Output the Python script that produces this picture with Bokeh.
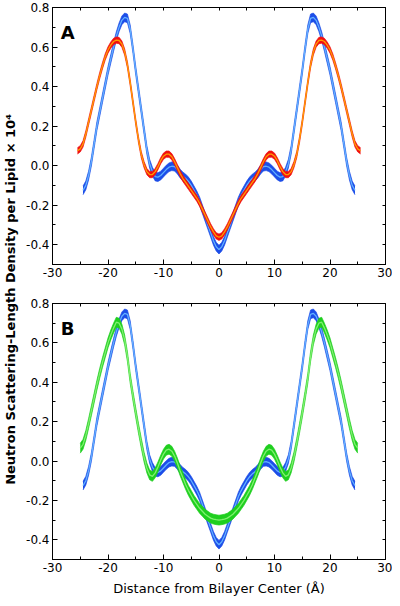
import numpy as np
from bokeh.plotting import figure
from bokeh.models import (Range1d, LinearAxis, SingleIntervalTicker, FixedTicker,
                          PrintfTickFormatter, CustomJSTickFormatter, Label)
from bokeh.layouts import row, column
from bokeh.embed import file_html
from bokeh.resources import INLINE

# ---------------- data ----------------
blue_x_start, blue_x_end = -24.5, 24.5
blue_y = [-0.125, -0.10, -0.05, 0.02, 0.11, 0.20, 0.27, 0.34, 0.41, 0.48,
          0.54, 0.60, 0.655, 0.70, 0.735, 0.75, 0.745, 0.69, 0.59, 0.48,
          0.38, 0.28, 0.18, 0.08, 0.01, -0.03, -0.055, -0.058, -0.05, -0.035,
          -0.02, -0.008, -0.003, -0.005, -0.02, -0.04, -0.055, -0.065, -0.08, -0.10,
          -0.125, -0.15, -0.18, -0.22, -0.26, -0.30, -0.34, -0.38, -0.41, -0.425,
          -0.41, -0.38, -0.34, -0.30, -0.26, -0.22, -0.18, -0.15, -0.125,
          -0.10, -0.08, -0.065, -0.055, -0.04, -0.02, -0.005, -0.003, -0.008, -0.02,
          -0.035, -0.05, -0.058, -0.055, -0.03, 0.01, 0.08, 0.18, 0.28, 0.38,
          0.48, 0.59, 0.69, 0.745, 0.75, 0.735, 0.70, 0.655, 0.60, 0.54,
          0.48, 0.41, 0.34, 0.27, 0.20, 0.11, 0.02, -0.05, -0.10, -0.125]
blue_halfwidth = 0.022

red_x_start, red_x_end = -25.5, 25.5
red_y = [0.075, 0.085, 0.11, 0.16, 0.22, 0.28, 0.34, 0.40, 0.455, 0.505,
         0.55, 0.585, 0.61, 0.628, 0.635, 0.633, 0.615, 0.575, 0.51, 0.42,
         0.32, 0.22, 0.13, 0.055, 0.005, -0.03, -0.045, -0.045, -0.03, -0.005,
         0.025, 0.048, 0.058, 0.058, 0.045, 0.02, -0.01, -0.04, -0.065, -0.085,
         -0.105, -0.125, -0.145, -0.165, -0.19, -0.22, -0.25, -0.28, -0.31, -0.335,
         -0.355, -0.362,
         -0.355, -0.335, -0.31, -0.28, -0.25, -0.22, -0.19, -0.165, -0.145, -0.125,
         -0.105, -0.085, -0.065, -0.04, -0.01, 0.02, 0.045, 0.058, 0.058, 0.048,
         0.025, -0.005, -0.03, -0.045, -0.045, -0.03, 0.005, 0.055, 0.13, 0.22,
         0.32, 0.42, 0.51, 0.575, 0.615, 0.633, 0.635, 0.628, 0.61, 0.585,
         0.55, 0.505, 0.455, 0.40, 0.34, 0.28, 0.22, 0.16, 0.11, 0.085, 0.075]
red_halfwidth = 0.016

green_x_start, green_x_end = -25.0, 25.0
green_y = [0.065, 0.085, 0.13, 0.19, 0.255, 0.32, 0.385, 0.445, 0.50, 0.55,
           0.60, 0.64, 0.675, 0.705, 0.70, 0.67, 0.615, 0.53, 0.42, 0.33,
           0.245, 0.165, 0.09, 0.02, -0.035, -0.07, -0.078, -0.06, -0.03, 0.005,
           0.035, 0.055, 0.06, 0.05, 0.025, -0.01, -0.05, -0.085, -0.12, -0.15,
           -0.175, -0.20, -0.22, -0.24, -0.255, -0.27, -0.28, -0.29, -0.295, -0.298,
           -0.30,
           -0.298, -0.295, -0.29, -0.28, -0.27, -0.255, -0.24, -0.22, -0.20, -0.175,
           -0.15, -0.12, -0.085, -0.05, -0.01, 0.025, 0.05, 0.06, 0.055, 0.035,
           0.005, -0.03, -0.06, -0.078, -0.07, -0.035, 0.02, 0.09, 0.165, 0.245,
           0.33, 0.42, 0.53, 0.615, 0.67, 0.70, 0.705, 0.675, 0.64, 0.60,
           0.55, 0.50, 0.445, 0.385, 0.32, 0.255, 0.19, 0.13, 0.085, 0.065]
green_halfwidth = 0.025

y_ticks = [-0.4, -0.2, 0.0, 0.2, 0.4, 0.6, 0.8]
y_minor = [-0.5, -0.3, -0.1, 0.1, 0.3, 0.5, 0.7]
y_mirror = [-0.4, -0.3, -0.2, -0.1, 0.0, 0.1, 0.2, 0.3, 0.4, 0.5, 0.6, 0.7]
x_label = "Distance from Bilayer Center (\u00c5)"
y_label = "Neutron Scattering-Length Density per Lipid \u00d7 10\u2074"

FONT = "DejaVu Sans"
BLUE_DARK, BLUE_LIGHT = "#1c4ee8", "#62b0ff"
RED_DARK, RED_LIGHT = "#f01010", "#ff9c00"
GREEN_DARK, GREEN_LIGHT = "#1fcf1f", "#80f070"


def band(p, xs, xe, ys, hw, dark, light):
    x = np.linspace(xs, xe, len(ys))
    y = np.array(ys)
    p.varea(x=x, y1=y - hw, y2=y + hw, fill_color=dark, fill_alpha=1.0)
    p.line(x, y - hw, line_color=dark, line_width=0.7)
    p.line(x, y + hw, line_color=dark, line_width=0.7)
    p.line(x, y, line_color=light, line_width=1.3)


def panel(letter, height, bottom_border, with_title):
    p = figure(width=372, height=height, output_backend="svg", toolbar_location=None,
               x_range=Range1d(-30, 30), y_range=Range1d(-0.5, 0.8),
               min_border_left=32, min_border_right=7, min_border_top=7,
               min_border_bottom=bottom_border)
    p.grid.visible = False
    p.outline_line_color = "black"
    p.outline_line_width = 1
    p.background_fill_color = "white"

    xa = p.xaxis[0]
    xa.ticker = SingleIntervalTicker(interval=10, num_minor_ticks=2)
    xa.formatter = PrintfTickFormatter(format="%d")
    ya = p.yaxis[0]
    ya.ticker = FixedTicker(ticks=y_ticks, minor_ticks=y_minor)
    ya.formatter = PrintfTickFormatter(format="%.1f")
    for ax in (xa, ya):
        ax.major_tick_in = 5
        ax.major_tick_out = 0
        ax.minor_tick_in = 3
        ax.minor_tick_out = 0
        ax.axis_line_color = "black"
        ax.major_tick_line_color = "black"
        ax.minor_tick_line_color = "black"
        ax.major_label_text_font = FONT
        ax.major_label_text_font_size = "12px"
        ax.major_label_text_color = "black"
        ax.major_label_standoff = 3
    if with_title:
        xa.axis_label = x_label
        xa.axis_label_text_font = FONT
        xa.axis_label_text_font_size = "13px"
        xa.axis_label_text_font_style = "normal"
        xa.axis_label_text_color = "black"
        xa.axis_label_standoff = 6

    empty = CustomJSTickFormatter(code="return ''")
    top = LinearAxis(ticker=SingleIntervalTicker(interval=5, num_minor_ticks=0),
                     formatter=empty)
    right = LinearAxis(ticker=FixedTicker(ticks=y_mirror), formatter=empty)
    for ax in (top, right):
        ax.major_tick_in = 3
        ax.major_tick_out = 0
        ax.minor_tick_in = 0
        ax.minor_tick_out = 0
        ax.major_label_standoff = 0
        ax.major_label_text_font_size = "1px"
        ax.axis_line_color = "black"
    p.add_layout(top, "above")
    p.add_layout(right, "right")

    p.add_layout(Label(x=-28.5, y=0.675, text=letter, text_font=FONT,
                       text_font_size="18px", text_font_style="bold",
                       text_color="black", text_align="left",
                       text_baseline="alphabetic"))
    return p


pA = panel("A", 296, 32, False)
band(pA, blue_x_start, blue_x_end, blue_y, blue_halfwidth, BLUE_DARK, BLUE_LIGHT)
band(pA, red_x_start, red_x_end, red_y, red_halfwidth, RED_DARK, RED_LIGHT)

pB = panel("B", 302, 38, True)
band(pB, blue_x_start, blue_x_end, blue_y, blue_halfwidth, BLUE_DARK, BLUE_LIGHT)
band(pB, green_x_start, green_x_end, green_y, green_halfwidth, GREEN_DARK, GREEN_LIGHT)

lab = figure(width=20, height=598, output_backend="svg", toolbar_location=None,
             x_range=Range1d(0, 1), y_range=Range1d(0, 1), min_border=0,
             x_axis_location=None, y_axis_location=None)
lab.grid.visible = False
lab.outline_line_color = None
lab.add_layout(Label(x=0.5, y=0.5, text=y_label, angle=np.pi / 2,
                     text_align="center", text_baseline="middle", text_font=FONT,
                     text_font_size="13px", text_font_style="bold",
                     text_color="black"))

layout = row(lab, column(pA, pB))
open("out.html", "w").write(file_html(layout, INLINE))
